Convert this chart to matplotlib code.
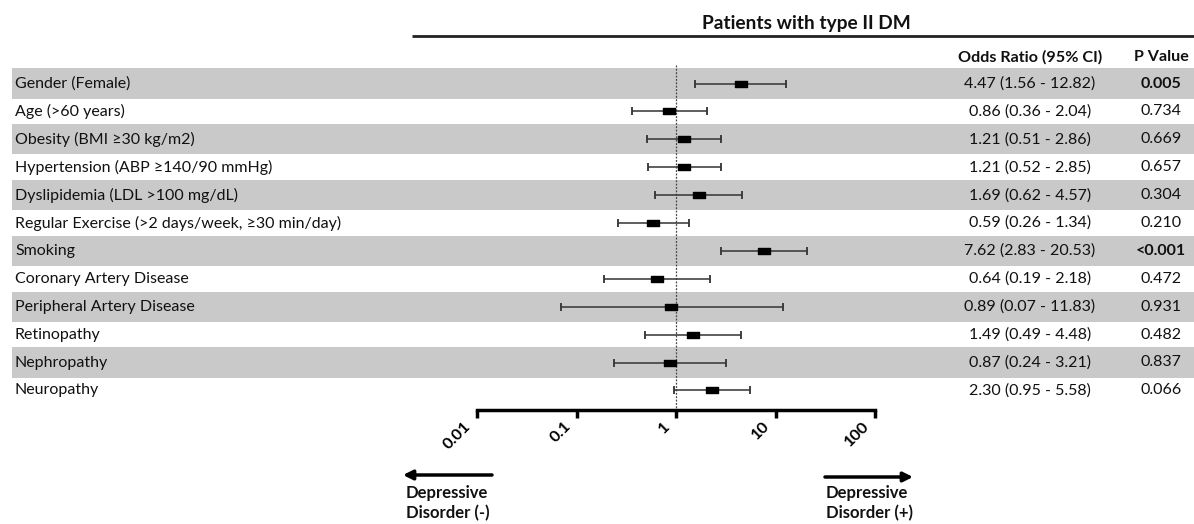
import matplotlib
matplotlib.use("Agg")
import matplotlib.pyplot as plt
from matplotlib.path import Path
from matplotlib.transforms import ScaledTranslation
import numpy as np

plt.rcParams['font.family'] = ['Lato', 'DejaVu Sans']

# ---------------- data ----------------
labels = [
    "Gender (Female)",
    "Age (>60 years)",
    "Obesity (BMI \u226530 kg/m2)",
    "Hypertension (ABP \u2265140/90 mmHg)",
    "Dyslipidemia (LDL >100 mg/dL)",
    "Regular Exercise (>2 days/week, \u226530 min/day)",
    "Smoking",
    "Coronary Artery Disease",
    "Peripheral Artery Disease",
    "Retinopathy",
    "Nephropathy",
    "Neuropathy",
]
odds = [4.47, 0.86, 1.21, 1.21, 1.69, 0.59, 7.62, 0.64, 0.89, 1.49, 0.87, 2.30]
ci_low = [1.56, 0.36, 0.51, 0.52, 0.62, 0.26, 2.83, 0.19, 0.07, 0.49, 0.24, 0.95]
ci_high = [12.82, 2.04, 2.86, 2.85, 4.57, 1.34, 20.53, 2.18, 11.83, 4.48, 3.21, 5.58]
p_values = ["0.005", "0.734", "0.669", "0.657", "0.304", "0.210", "<0.001",
            "0.472", "0.931", "0.482", "0.837", "0.066"]
p_bold = [True, False, False, False, False, False, True,
          False, False, False, False, False]
xticks = [0.01, 0.1, 1, 10, 100]
xtick_labels = ["0.01", "0.1", "1", "10", "100"]
title = "Patients with type II DM"
col_or = "Odds Ratio (95% CI)"
col_p = "P Value"
left_note = "Depressive\nDisorder (-)"
right_note = "Depressive\nDisorder (+)"

# ---------------- layout ----------------
W, H = 1194, 524
fig = plt.figure(figsize=(W / 100, H / 100), dpi=100)

ROW0, PITCH = 83.5, 27.9          # pixel y of first row centre, row pitch


def r(ypix):
    """pixel y -> row units"""
    return (ypix - ROW0) / PITCH


ylims = (r(H), r(0))
rows = np.arange(len(labels))

bg = fig.add_axes([0, 0, 1, 1])
bg.set_xlim(0, W)
bg.set_ylim(*ylims)
bg.axis('off')

FS = 11.5
FSB = 11.6
X_OR, X_P = 1030, 1161
TXT = '#111111'
band_color = '#c9c9c9'
for i in rows:
    if i % 2 == 0:
        bg.axhspan(i - 0.54, i + 0.54, xmin=12 / W, xmax=1, color=band_color, lw=0, zorder=0)
    bg.text(15, i, labels[i], ha='left', va='center', fontsize=FS, color=TXT)
    txt = f"{odds[i]:.2f} ({ci_low[i]:.2f} - {ci_high[i]:.2f})"
    bg.text(X_OR, i, txt, ha='center', va='center', fontsize=FS, color=TXT)
    bg.text(X_P, i, p_values[i], ha='center', va='center', fontsize=FS,
            fontweight='bold' if p_bold[i] else 'normal', color=TXT)

# header
bg.text(806, r(23), title, ha='center', va='center', fontsize=13.8, fontweight='bold', color=TXT)
bg.plot([412, W], [r(36), r(36)], color='#222222', lw=2, solid_capstyle='butt')
bg.text(X_OR, r(57), col_or, ha='center', va='center', fontsize=FSB, fontweight='bold', color=TXT)
bg.text(X_P, r(57), col_p, ha='center', va='center', fontsize=FSB, fontweight='bold', color=TXT)

# arrows and notes
bg.annotate('', xy=(403, r(475)), xytext=(492, r(475)),
            arrowprops=dict(arrowstyle='-|>', lw=2.5, color='black', mutation_scale=14,
                            shrinkA=0, shrinkB=0))
bg.annotate('', xy=(913, r(477)), xytext=(825, r(477)),
            arrowprops=dict(arrowstyle='-|>', lw=2.5, color='black', mutation_scale=14,
                            shrinkA=0, shrinkB=0))
bg.text(406, r(485), left_note, ha='left', va='top', fontsize=12, fontweight='bold',
        linespacing=1.3, color=TXT)
bg.text(826, r(485), right_note, ha='left', va='top', fontsize=12, fontweight='bold',
        linespacing=1.3, color=TXT)

# ---------------- forest axes ----------------
ax = fig.add_axes([477 / W, 0, 398 / W, 1])
ax.patch.set_alpha(0)
ax.set_xscale('log')
ax.set_xlim(0.01, 100)
ax.set_ylim(*ylims)
for s in ['left', 'right', 'top']:
    ax.spines[s].set_visible(False)
ax.spines['bottom'].set_position(('data', r(410)))
ax.spines['bottom'].set_linewidth(2.5)
ax.yaxis.set_visible(False)
ax.set_xticks(xticks)
ax.set_xticklabels(xtick_labels)
ax.minorticks_off()
ax.tick_params(axis='x', direction='out', length=6, width=2.5, pad=2, labelsize=11.8)
shift = ScaledTranslation(-0.13, 0.02, fig.dpi_scale_trans)
for lab in ax.get_xticklabels():
    lab.set_rotation(45)
    lab.set_ha('right')
    lab.set_va('top')
    lab.set_rotation_mode('anchor')
    lab.set_fontweight('bold')
    lab.set_transform(lab.get_transform() + shift)

ax.plot([1, 1], [r(65), r(410)], color='#444444', lw=0.9, ls=(0, (1.5, 1.2)), zorder=1)

odds_a = np.array(odds)
xerr = [odds_a - np.array(ci_low), np.array(ci_high) - odds_a]
ax.errorbar(odds_a, rows, xerr=xerr, fmt='none', ecolor='#333333', elinewidth=1.1,
            capsize=3, capthick=1.3, zorder=2)
rect = Path([(-1, -0.6), (1, -0.6), (1, 0.6), (-1, 0.6), (-1, -0.6)],
            [Path.MOVETO, Path.LINETO, Path.LINETO, Path.LINETO, Path.CLOSEPOLY])
ax.plot(odds_a, rows, ls='none', marker=rect, ms=8, color='black', zorder=3)

fig.savefig('out.png', dpi=100)
